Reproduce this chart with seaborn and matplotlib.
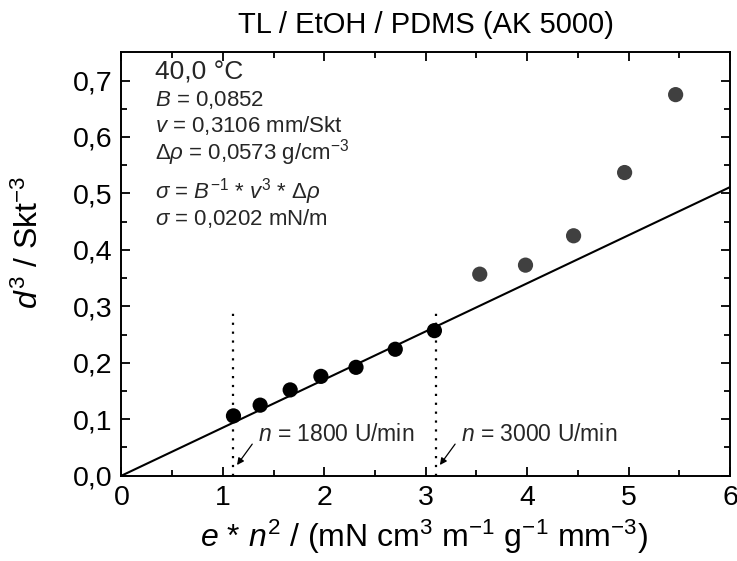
import numpy as np
import pandas as pd
import matplotlib
matplotlib.use("Agg")
import matplotlib.pyplot as plt
import seaborn as sns

# ---- data ----
x_fit = [1.105, 1.368, 1.664, 1.967, 2.313, 2.700, 3.086]
y_fit = [0.106, 0.125, 0.152, 0.176, 0.192, 0.224, 0.257]
x_out = [3.533, 3.984, 4.458, 4.961, 5.464]
y_out = [0.357, 0.373, 0.425, 0.537, 0.675]
slope = 0.0852
line_x = [0.0, 6.0]
speed_x = [1.1, 3.1]
speed_labels = ["1800", "3000"]
xticks = [0, 1, 2, 3, 4, 5, 6]
xtick_labels = ["0", "1", "2", "3", "4", "5", "6"]
yticks = [0.0, 0.1, 0.2, 0.3, 0.4, 0.5, 0.6, 0.7]
ytick_labels = ["0,0", "0,1", "0,2", "0,3", "0,4", "0,5", "0,6", "0,7"]

sns.set_theme(style="ticks")
plt.rcParams['font.family'] = ['Liberation Sans', 'DejaVu Sans']
plt.rcParams['mathtext.fontset'] = 'custom'
plt.rcParams['mathtext.rm'] = 'Liberation Sans'
plt.rcParams['mathtext.it'] = 'Liberation Sans:italic'
plt.rcParams['mathtext.bf'] = 'Liberation Sans:bold'

fig = plt.figure(figsize=(7.37, 5.61), dpi=100)
ax = fig.add_axes([0.1647, 0.152, 0.9905 - 0.1647, 0.9068 - 0.152])

df_fit = pd.DataFrame({"x": x_fit, "y": y_fit})
df_out = pd.DataFrame({"x": x_out, "y": y_out})
lx = np.array(line_x)
df_line = pd.DataFrame({"x": lx, "y": slope * lx})

sns.lineplot(data=df_line, x="x", y="y", ax=ax, color="black", lw=1.5, zorder=2)
sns.scatterplot(data=df_fit, x="x", y="y", ax=ax, color="black", s=120,
                edgecolor="none", zorder=3)
sns.scatterplot(data=df_out, x="x", y="y", ax=ax, color="#404040", s=120,
                edgecolor="none", zorder=3)

ax.vlines(speed_x, 0, 0.295, colors="black", linestyles=(0, (1, 3)), lw=1.6, zorder=1)

for sx, lab in zip(speed_x, speed_labels):
    ax.annotate("", xy=(sx + 0.04, 0.019), xytext=(sx + 0.19, 0.056),
                arrowprops=dict(arrowstyle="-|>", color="black", lw=0.9,
                                mutation_scale=10, shrinkA=0, shrinkB=0))
    ax.text(sx + 0.25, 0.0735, r"$n$ = " + lab + " U/min", fontsize=16.5,
            ha="left", va="center")

ax.set_xlim(0, 6)
ax.set_ylim(0, 0.75)
ax.set_xticks(xticks)
ax.set_xticklabels(xtick_labels)
ax.set_yticks(yticks)
ax.set_yticklabels(ytick_labels)
ax.set_xticks(np.arange(0.5, 6, 1), minor=True)
ax.set_yticks(np.arange(0.05, 0.75, 0.1), minor=True)
ax.tick_params(which="both", direction="in", top=True, right=True, width=1.3,
               labelsize=20.5, color="black", labelcolor="black")
ax.tick_params(which="major", length=6.5, pad=6.5)
ax.tick_params(which="minor", length=4)
for sp in ax.spines.values():
    sp.set_linewidth(1.4)
    sp.set_color("black")

ax.set_xlabel(r"$e$ * $n^2$ / (mN cm$^3$ m$^{-1}$ g$^{-1}$ mm$^{-3}$)", fontsize=23,
              color="black", va="top")
ax.xaxis.set_label_coords(0.497, -0.100)
ax.set_ylabel(r"$d^3$ / Skt$^{-3}$", fontsize=23, color="black")
ax.yaxis.set_label_coords(-0.125, 0.55)
ax.set_title("TL / EtOH / PDMS (AK 5000)", fontsize=21, pad=14, color="black")

ax.text(0.33, 0.714, "40,0 °C", fontsize=19, va="center", ha="left")
ax.text(0.33, 0.666, r"$B$ = 0,0852", fontsize=16, va="center", ha="left")
ax.text(0.33, 0.620, r"$v$ = 0,3106 mm/Skt", fontsize=16, va="center", ha="left")
ax.text(0.33, 0.573, r"$\Delta\rho$ = 0,0573 g/cm$^{-3}$", fontsize=16, va="center", ha="left")
ax.text(0.33, 0.504, r"$\sigma$ = $B^{-1}$ * $v^3$ * $\Delta\rho$", fontsize=16, va="center", ha="left")
ax.text(0.33, 0.455, r"$\sigma$ = 0,0202 mN/m", fontsize=16, va="center", ha="left")

fig.savefig("out.png", dpi=100)
